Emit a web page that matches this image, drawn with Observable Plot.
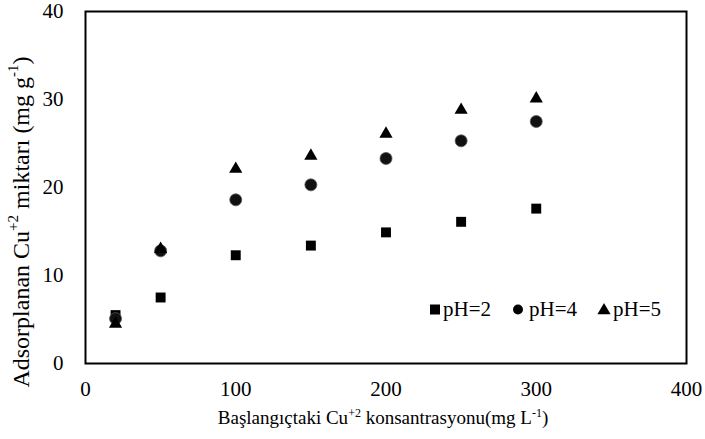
<!DOCTYPE html>
<html>
<head>
<meta charset="utf-8">
<script src="https://cdn.jsdelivr.net/npm/d3@7"></script>
<script src="https://cdn.jsdelivr.net/npm/@observablehq/plot@0.6"></script>
<style>
  html, body { margin: 0; padding: 0; background: white; }
  #chart { position: relative; width: 705px; height: 439px; }
</style>
</head>
<body>
<div id="chart"></div>
<script>
// Data
const concentrations = [20, 50, 100, 150, 200, 250, 300];
const seriesNames = ["pH=2", "pH=4", "pH=5"];
const pH2 = [5.5, 7.5, 12.3, 13.4, 14.9, 16.1, 17.6];
const pH4 = [5.1, 12.8, 18.6, 20.3, 23.3, 25.3, 27.5];
const pH5 = [4.5, 13.0, 22.1, 23.6, 26.1, 28.8, 30.1];
const xTicks = [0, 100, 200, 300, 400];
const yTicks = [0, 10, 20, 30, 40];

const seriesValues = [pH2, pH4, pH5];
const symbols = ["square", "circle", "triangle"];
const radii = [5.6, 6, 4.9];

const rows = [];
seriesNames.forEach((name, i) => {
  concentrations.forEach((c, j) => rows.push({series: name, x: c, y: seriesValues[i][j]}));
});

const font = '"Liberation Serif", "Times New Roman", serif';

const plot = Plot.plot({
  width: 705,
  height: 439,
  marginLeft: 85,
  marginRight: 19,
  marginTop: 11,
  marginBottom: 76,
  style: {fontFamily: font, fontSize: "21px", background: "white", color: "black"},
  x: {domain: [0, 400], label: null},
  y: {domain: [0, 40], label: null},
  marks: [
    Plot.axisX({ticks: xTicks, tickSize: 0, tickPadding: 18, fontSize: 21, label: null}),
    Plot.axisY({ticks: yTicks, tickSize: 0, tickPadding: 22, fontSize: 21, label: null}),
    ...seriesNames.map((name, i) => Plot.dot(rows.filter(d => d.series === name), {
      x: "x", y: "y", symbol: () => symbols[i], r: radii[i], fill: i === 1 ? "#111" : "black",
      stroke: i === 1 ? "#555" : "none", strokeWidth: 0.8
    })),
    Plot.frame({stroke: "black", strokeWidth: 2})
  ]
});

document.getElementById("chart").appendChild(plot);

const svg = d3.select(plot);

// Y-axis title with superscripts
const yt = svg.append("text")
  .attr("transform", "translate(23,222) rotate(-90)")
  .attr("text-anchor", "middle")
  .attr("dominant-baseline", "middle")
  .attr("font-family", font)
  .attr("font-size", 24)
  .attr("fill", "black");
yt.append("tspan").text("Adsorplanan Cu");
yt.append("tspan").attr("baseline-shift", "super").attr("font-size", 15).text("+2");
yt.append("tspan").text(" miktarı (mg g");
yt.append("tspan").attr("baseline-shift", "super").attr("font-size", 15).text("-1");
yt.append("tspan").text(")");

// X-axis title with superscripts
const xt = svg.append("text")
  .attr("x", 383)
  .attr("y", 424)
  .attr("text-anchor", "middle")
  .attr("font-family", font)
  .attr("font-size", 19)
  .attr("fill", "black");
xt.append("tspan").text("Başlangıçtaki Cu");
xt.append("tspan").attr("baseline-shift", "super").attr("font-size", 12).text("+2");
xt.append("tspan").text(" konsantrasyonu(mg L");
xt.append("tspan").attr("baseline-shift", "super").attr("font-size", 12).text("-1");
xt.append("tspan").text(")");

// Legend inside the plot, bottom right
const legendSym = [d3.symbolSquare, d3.symbolCircle, d3.symbolTriangle];
const legendSymX = [435, 518, 604];
const legendTextX = [443, 529, 613];
const legendSizes = [100, 78, 75];
const lg = svg.append("g").attr("font-family", font).attr("font-size", 21).attr("text-anchor", "start");
seriesNames.forEach((name, i) => {
  lg.append("path")
    .attr("transform", `translate(${legendSymX[i]},${i === 2 ? 310.5 : 309.5})`)
    .attr("d", d3.symbol(legendSym[i], legendSizes[i])())
    .attr("fill", "black");
  lg.append("text")
    .attr("x", legendTextX[i])
    .attr("y", 316)
    .attr("text-anchor", "start")
    .attr("fill", "black")
    .text(name);
});
</script>
</body>
</html>
